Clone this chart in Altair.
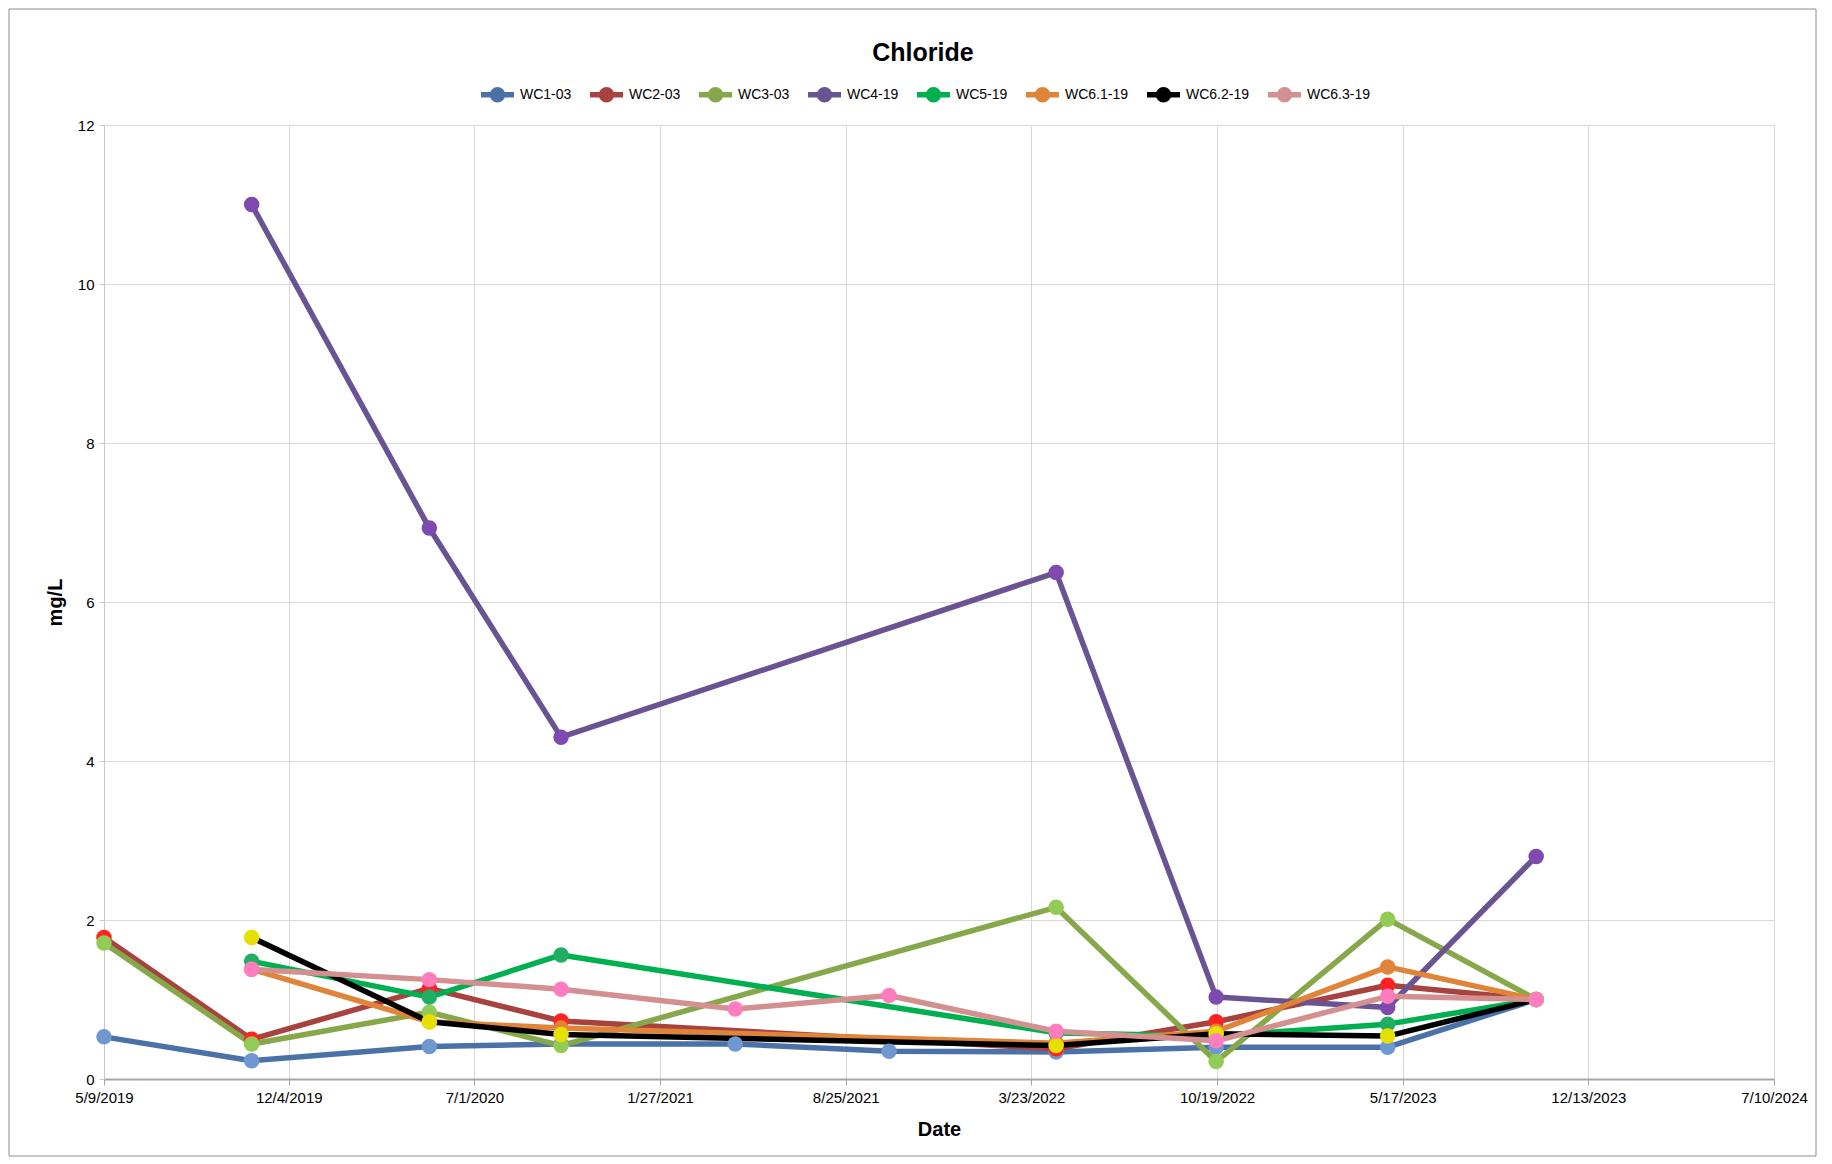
import altair as alt
import pandas as pd

# ---------------- data ----------------
series_names = ["WC1-03", "WC2-03", "WC3-03", "WC4-19", "WC5-19", "WC6.1-19", "WC6.2-19", "WC6.3-19"]
line_colors = ["#4A72A9", "#A8423F", "#86A84A", "#6A5393", "#00B050", "#E0843A", "#000000", "#D49090"]
marker_colors = ["#6F98D0", "#FF2222", "#92CC56", "#7E4AAF", "#1FAE63", "#E0843A", "#E6E000", "#FF7DBE"]
line_widths = [5.5, 5.5, 5.5, 5, 5.5, 3.5, 5.5, 5.5]
marker_sizes = [240, 240, 240, 190, 240, 130, 240, 240]

wc1_dates = ["2019-05-09", "2019-10-23", "2020-05-11", "2020-10-07", "2021-04-22", "2021-10-13",
             "2022-04-20", "2022-10-18", "2023-04-30", "2023-10-15"]
wc1_values = [0.53, 0.23, 0.41, 0.44, 0.44, 0.35, 0.34, 0.40, 0.40, 1.00]

wc2_dates = ["2019-05-09", "2019-10-23", "2020-05-11", "2020-10-07", "2022-04-20", "2022-10-18",
             "2023-04-30", "2023-10-15"]
wc2_values = [1.78, 0.50, 1.14, 0.73, 0.38, 0.72, 1.18, 1.00]

wc3_dates = ["2019-05-09", "2019-10-23", "2020-05-11", "2020-10-07", "2022-04-20", "2022-10-18",
             "2023-04-30", "2023-10-15"]
wc3_values = [1.71, 0.44, 0.84, 0.42, 2.16, 0.22, 2.01, 1.00]

wc4_dates = ["2019-10-23", "2020-05-11", "2020-10-07", "2022-04-20", "2022-10-18", "2023-04-30", "2023-10-15"]
wc4_values = [11.0, 6.93, 4.30, 6.37, 1.03, 0.90, 2.80]

wc5_dates = ["2019-10-23", "2020-05-11", "2020-10-07", "2022-04-20", "2022-10-18", "2023-04-30", "2023-10-15"]
wc5_values = [1.48, 1.03, 1.56, 0.58, 0.54, 0.69, 1.00]

wc61_dates = ["2019-10-23", "2020-05-11", "2020-10-07", "2022-04-20", "2022-10-18", "2023-04-30", "2023-10-15"]
wc61_values = [1.38, 0.72, 0.64, 0.45, 0.60, 1.41, 1.00]

wc62_dates = ["2019-10-23", "2020-05-11", "2020-10-07", "2022-04-20", "2022-10-18", "2023-04-30", "2023-10-15"]
wc62_values = [1.78, 0.72, 0.56, 0.42, 0.57, 0.54, 1.00]

wc63_dates = ["2019-10-23", "2020-05-11", "2020-10-07", "2021-04-22", "2021-10-13", "2022-04-20",
              "2022-10-18", "2023-04-30", "2023-10-15"]
wc63_values = [1.38, 1.25, 1.13, 0.88, 1.05, 0.60, 0.48, 1.04, 1.00]

x_tick_dates = ["2019-05-09", "2019-12-04", "2020-07-01", "2021-01-27", "2021-08-25", "2022-03-23",
                "2022-10-19", "2023-05-17", "2023-12-13", "2024-07-10"]
y_ticks = [0, 2, 4, 6, 8, 10, 12]

all_dates = [wc1_dates, wc2_dates, wc3_dates, wc4_dates, wc5_dates, wc61_dates, wc62_dates, wc63_dates]
all_values = [wc1_values, wc2_values, wc3_values, wc4_values, wc5_values, wc61_values, wc62_values, wc63_values]

rows = []
for i, name in enumerate(series_names):
    for d, v in zip(all_dates[i], all_values[i]):
        rows.append({"series": name, "date": d, "value": v, "order": i})
df = pd.DataFrame(rows)


def dt(s):
    t = pd.Timestamp(s)
    return alt.DateTime(year=t.year, month=t.month, date=t.day, utc=True)


FONT = "Liberation Sans"

x_enc = alt.X(
    "date:T",
    scale=alt.Scale(type="utc", domain=[dt(x_tick_dates[0]), dt(x_tick_dates[-1])]),
    axis=alt.Axis(
        values=[dt(s) for s in x_tick_dates],
        labelExpr="utcFormat(datum.value, '%-m/%-d/%Y')",
        title="Date",
        titleFont=FONT, titleFontSize=20, titleFontWeight="bold", titleColor="#000000",
        titleY=50, titleBaseline="middle",
        labelFont=FONT, labelFontSize=15, labelColor="#000000",
        labelOverlap=False, labelFlush=False, labelPadding=5,
        grid=True, gridColor="#D9D9D9", gridWidth=1,
        domainColor="#A6A6A6", domainWidth=2, tickColor="#A6A6A6", tickSize=6, tickWidth=1,
    ),
)
y_enc = alt.Y(
    "value:Q",
    scale=alt.Scale(domain=[0, 12], nice=False),
    axis=alt.Axis(
        values=y_ticks,
        title="mg/L",
        titleFont=FONT, titleFontSize=20, titleFontWeight="bold", titleColor="#000000",
        titleX=-49, titleBaseline="middle",
        labelFont=FONT, labelFontSize=15, labelColor="#000000", labelPadding=5,
        grid=True, gridColor="#D9D9D9", gridWidth=1,
        domainColor="#C8C8C8", domainWidth=1, tickColor="#C8C8C8", tickSize=5,
    ),
)

legend_path = "M-1,0H1M0.3,0A0.3,0.3,0,1,1,-0.3,0A0.3,0.3,0,1,1,0.3,0Z"


def make_legend():
    return alt.Legend(
        title=None, orient="none", legendX=374, legendY=-50, direction="horizontal",
        symbolType=legend_path, symbolSize=1089, symbolStrokeWidth=3.5,
        labelFont=FONT, labelFontSize=14, labelColor="#000000",
        columnPadding=7, labelOffset=3, padding=0,
    )


lines = alt.Chart(df).mark_line(strokeCap="round", strokeJoin="round").encode(
    x=x_enc,
    y=y_enc,
    stroke=alt.Stroke("series:N", scale=alt.Scale(domain=series_names, range=line_colors),
                      sort=series_names, legend=make_legend()),
    strokeWidth=alt.StrokeWidth("series:N", scale=alt.Scale(domain=series_names, range=line_widths),
                                legend=None),
    order=alt.Order("date:T"),
)

points = alt.Chart(df).mark_point(filled=True, opacity=1, shape="circle").encode(
    x=x_enc,
    y=y_enc,
    fill=alt.Fill("series:N", scale=alt.Scale(domain=series_names, range=marker_colors),
                  sort=series_names, legend=make_legend()),
    size=alt.Size("series:N", scale=alt.Scale(domain=series_names, range=marker_sizes), legend=None),
)

frame = alt.Chart(pd.DataFrame({"k": [0]})).mark_rect(
    fill="transparent", stroke="#8C8C8C", strokeWidth=1
).encode(
    x=alt.value(-95), x2=alt.value(1712), y=alt.value(-116), y2=alt.value(1031)
)

chart = alt.layer(lines, points, frame).properties(
    width=1670,
    height=954,
    autosize=alt.AutoSizeParams(type="none"),
    padding={"left": 104, "top": 125, "right": 58, "bottom": 85},
    title=alt.TitleParams(
        "Chloride", font=FONT, fontSize=25, fontWeight="bold", color="#000000",
        anchor="middle", offset=-57, dx=-16,
    ),
).resolve_scale(size="independent").configure_view(stroke="transparent").configure(background="white")

chart.save("out.html", embed_options={"renderer": "svg", "actions": False})
